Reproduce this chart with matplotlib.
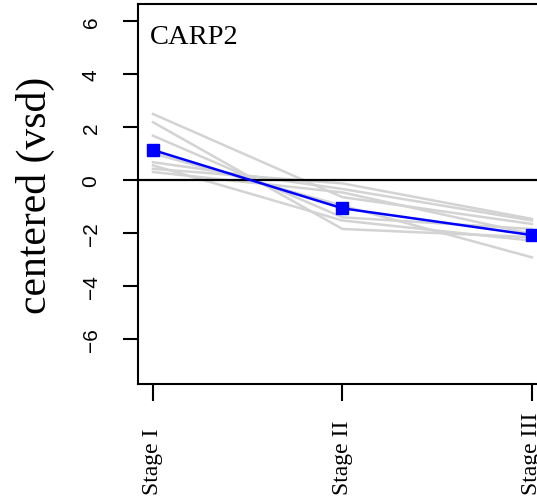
import matplotlib
matplotlib.use('Agg')
import matplotlib.pyplot as plt
import matplotlib.transforms as mtransforms

plt.rcParams['font.family'] = ['Liberation Sans', 'DejaVu Sans']

stages = ["Stage I", "Stage II", "Stage III"]
stage_pos = [1, 2, 3]

# individual samples (grey)
stage1 = [2.49, 2.18, 1.67, 1.00, 0.67, 0.55, 0.42, 0.30]
stage2 = [-0.65, -1.85, -1.41, -0.97, -0.34, -1.53, -0.13, -0.47]
stage3 = [-1.66, -2.16, -1.85, -2.92, -1.53, -2.29, -1.47, -2.04]

# summary line (blue)
summary = [1.13, -1.07, -2.08]

gene = "CARP2"
yticks = [-6, -4, -2, 0, 2, 4, 6]

fig = plt.figure(figsize=(5.37, 5.02), dpi=100)
ax = fig.add_axes([138/537, (502-385)/502, 409/537, 380/502])

for a, b, c in zip(stage1, stage2, stage3):
    ax.plot(stage_pos, [a, b, c], color="#d3d3d3", lw=1.8, zorder=1)

ax.axhline(0, color="black", lw=1.6, zorder=2)
ax.plot(stage_pos, summary, color="blue", lw=1.8, marker="s", markersize=8, zorder=3)

ax.set_xlim(0.921, 3.08)
ax.set_ylim(-7.7, 6.64)

ax.tick_params(axis="y", length=11, width=1.5, pad=16, labelsize=15)
ax.tick_params(axis="x", length=12, width=1.5, labelbottom=False)

ax.set_yticks(yticks)
ax.set_yticklabels([str(v).replace("-", "\u2212") for v in yticks],
                   rotation=90, va="center", fontsize=15)

# stage labels sit on a common baseline near the bottom edge
ax.set_xticks(stage_pos)
trans = mtransforms.blended_transform_factory(ax.transData, fig.transFigure)
for x, lab in zip(stage_pos, stages):
    ax.text(x, 7/502, lab, transform=trans, rotation=90, ha="center", va="bottom",
            family="Liberation Serif", fontsize=17, clip_on=False)

ax.set_ylabel("centered (vsd)", family="Liberation Serif", fontsize=30, labelpad=19)

ax.text(0.986, 5.4, gene, family="Liberation Serif", fontsize=20.5, va="center")

for s in ax.spines.values():
    s.set_linewidth(1.5)

plt.savefig("out.png", dpi=100)
plt.close()
